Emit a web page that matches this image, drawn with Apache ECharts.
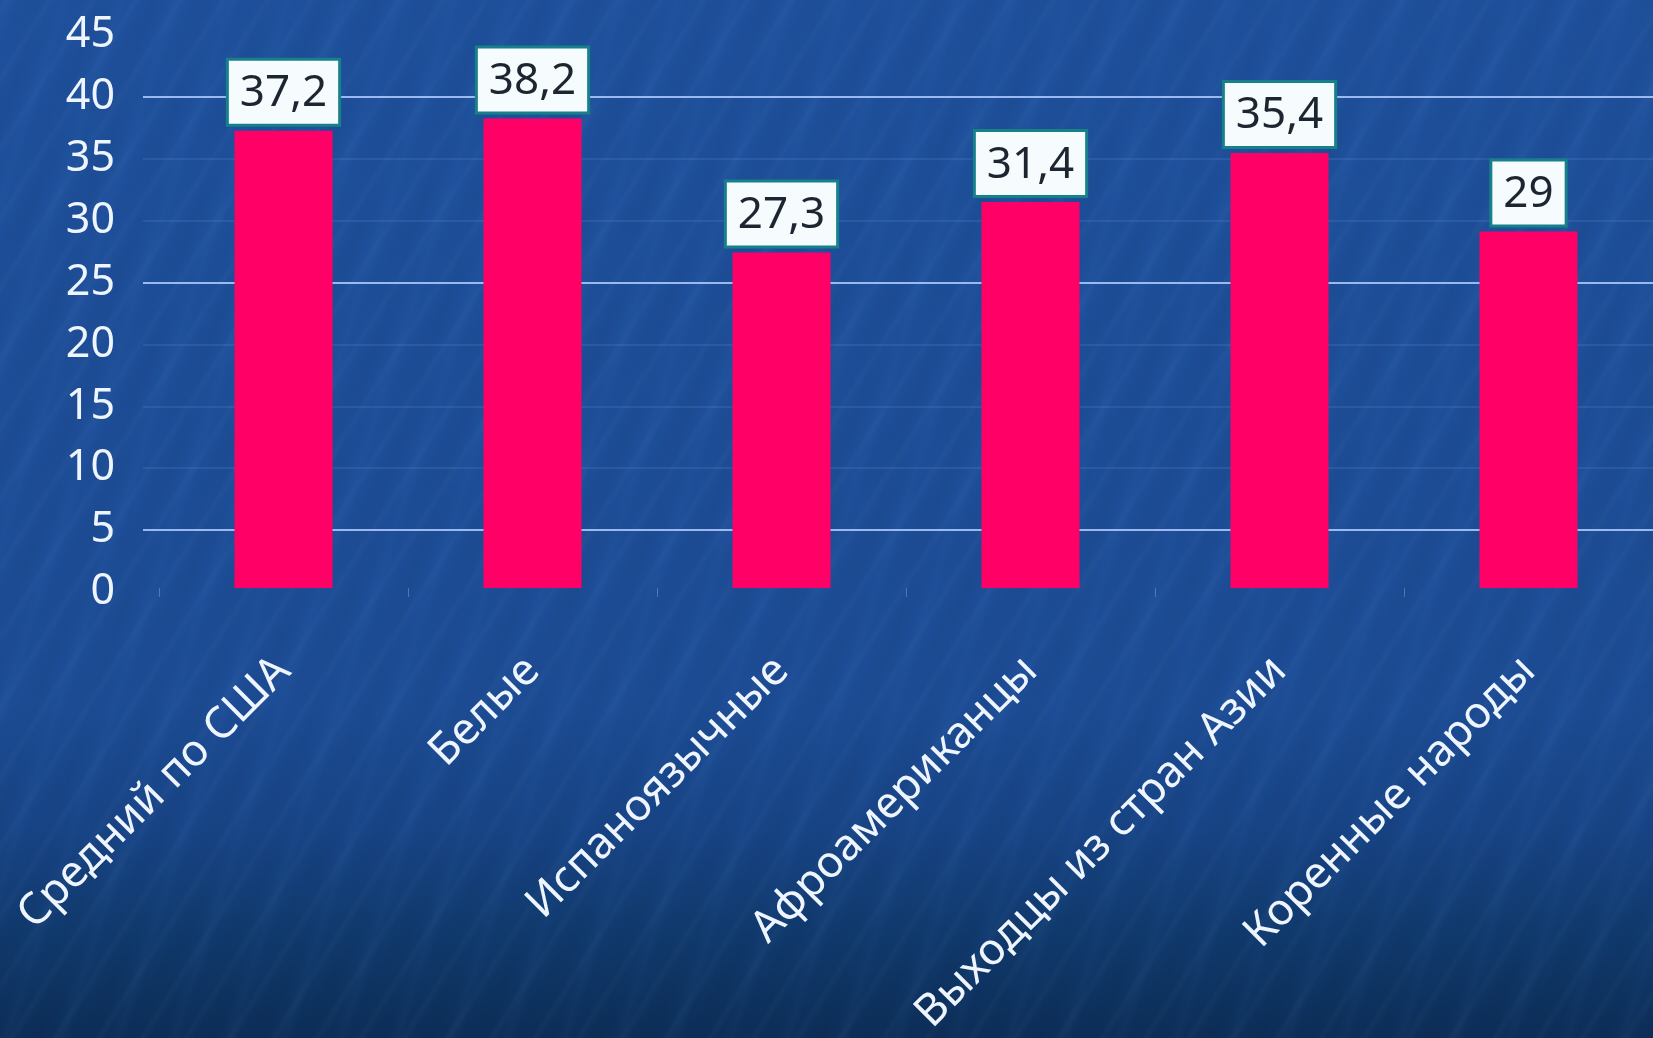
<!DOCTYPE html>
<html>
<head>
<meta charset="utf-8">
<title>Средний возраст</title>
<script src="https://cdn.jsdelivr.net/npm/echarts@6/dist/echarts.min.js"></script>
<style>
  html, body { margin: 0; padding: 0; }
  body {
    width: 1653px; height: 1038px; overflow: hidden;
    background:
      repeating-linear-gradient(122deg, rgba(255,255,255,0) 0px, rgba(255,255,255,0.025) 5px, rgba(255,255,255,0) 11px, rgba(0,0,0,0.02) 23px, rgba(255,255,255,0) 37px),
      repeating-linear-gradient(108deg, rgba(255,255,255,0) 0px, rgba(120,170,255,0.03) 9px, rgba(255,255,255,0) 17px, rgba(0,0,0,0.025) 41px, rgba(255,255,255,0) 53px),
      linear-gradient(to bottom, #1e509c 0%, #1c4c95 68%, #174486 80%, #103a6e 90%, #0c2e58 100%);
  }
  #chart { width: 1653px; height: 1038px; }
</style>
</head>
<body>
<div id="chart"></div>
<script>
// Медианный возраст по группам населения
const categories = [
  'Средний по США',
  'Белые',
  'Испаноязычные',
  'Афроамериканцы',
  'Выходцы из стран Азии',
  'Коренные народы'
];
const values = [37.2, 38.2, 27.3, 31.4, 35.4, 29];
const yTicks = [0, 5, 10, 15, 20, 25, 30, 35, 40, 45];

const FONT = '"Noto Sans", "DejaVu Sans", sans-serif';
const BRIGHT = 'rgba(175,205,255,0.85)';
const FAINT = 'rgba(140,175,240,0.13)';

// grid lines from 5 up to 40 (min and max lines hidden)
const lineColors = yTicks.slice(1, -1).map(v => (v === 5 || v === 25 || v === 40) ? BRIGHT : FAINT);

const chart = echarts.init(document.getElementById('chart'));
chart.setOption({
  backgroundColor: 'transparent',
  animation: false,
  grid: [
    // value scale + grid lines
    { left: 143, right: 0, top: 35, bottom: 446 },
    // bars
    { left: 159, right: -4, top: 35, bottom: 446 }
  ],
  xAxis: [
    { type: 'category', gridIndex: 0, data: categories, show: false },
    {
      type: 'category', gridIndex: 1, data: categories,
      axisLine: { show: false },
      axisTick: { show: true, length: 9, lineStyle: { color: 'rgba(200,220,255,0.3)', width: 1 } },
      axisLabel: {
        rotate: 45, margin: 76, interval: 0,
        color: '#eef5ff', fontFamily: FONT, fontSize: 44
      }
    }
  ],
  yAxis: [
    {
      type: 'value', gridIndex: 0, min: 0, max: 45, interval: 5,
      axisLine: { show: false }, axisTick: { show: false },
      axisLabel: { margin: 28, color: '#eef5ff', fontFamily: FONT, fontSize: 43 },
      splitLine: { show: true, showMinLine: false, showMaxLine: false, lineStyle: { color: lineColors, width: 2 } }
    },
    {
      type: 'value', gridIndex: 1, min: 0, max: 45, interval: 5,
      show: false, splitLine: { show: false }
    }
  ],
  series: [{
    type: 'bar',
    xAxisIndex: 1, yAxisIndex: 1,
    data: values,
    barWidth: 98,
    itemStyle: { color: '#ff0066' },
    label: {
      show: true, position: 'top', distance: 7,
      formatter: p => String(p.value).replace('.', ','),
      fontFamily: FONT, fontSize: 44, color: '#1d2630',
      lineHeight: 48,
      backgroundColor: '#f6fcfd',
      borderColor: '#17818a', borderWidth: 3,
      padding: [9, 11, 6, 11]
    }
  }]
});
</script>
</body>
</html>
